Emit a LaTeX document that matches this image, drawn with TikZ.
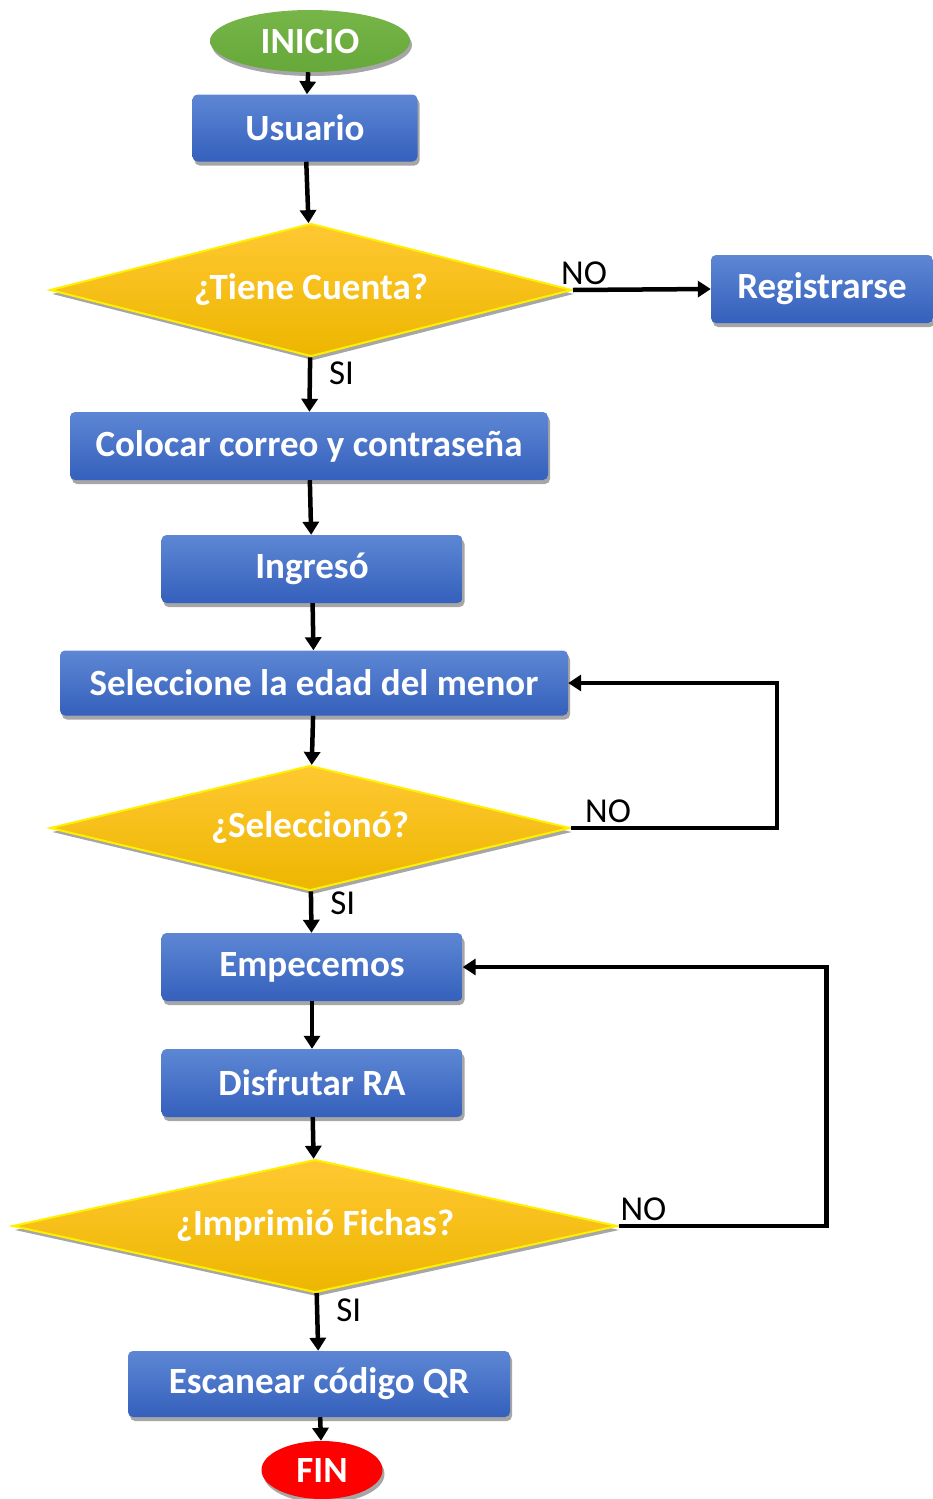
\documentclass[tikz,border=0pt]{standalone}
\usepackage{fontspec}
\setmainfont{Carlito}
\usepackage{tikz}
\usetikzlibrary{arrows.meta,shapes.geometric,shadows}
\definecolor{bluetop}{HTML}{5D87D4}
\definecolor{bluebot}{HTML}{3560BC}
\definecolor{goldtop}{HTML}{FFC832}
\definecolor{goldbot}{HTML}{EDB600}
\definecolor{yelline}{HTML}{FFF000}
\definecolor{greenx}{HTML}{77B548}
\definecolor{greendk}{HTML}{66A83A}
\definecolor{redx}{HTML}{FF0000}
\tikzset{
  ar/.style={-{Triangle[length=13pt,width=16pt]},line width=4.5pt,black},
  shd/.style={drop shadow={shadow xshift=2pt,shadow yshift=-4pt,opacity=0.35,fill=black}},
  box/.style={rectangle,rounded corners=5pt,top color=bluetop,bottom color=bluebot,draw=none,
    text=white,font=\fontsize{37}{39}\selectfont\bfseries,inner sep=0pt,shd},
  dec/.style={diamond,shape aspect=3.9,top color=goldtop,bottom color=goldbot,draw=yelline,line width=2pt,
    text=white,font=\fontsize{37}{39}\selectfont\bfseries,inner sep=0pt,shd},
  term/.style={ellipse,draw=none,text=white,font=\fontsize{37}{39}\selectfont\bfseries,inner sep=0pt,shd},
  lbl/.style={font=\fontsize{35}{37}\selectfont,text=black,inner sep=3pt},
  si/.style={lbl,right,xshift=14pt}
}
\begin{document}
\begin{tikzpicture}[x=1pt,y=-1pt]
\useasboundingbox (0,0) rectangle (933,1499);
% nodes
\node[term,top color=greenx,bottom color=greendk,minimum width=200,minimum height=62] (ini) at (310,41) {INICIO};
\node[box,minimum width=225,minimum height=67] (usu) at (305,128) {Usuario};
\node[dec,minimum width=522,minimum height=133] (cta) at (311,290) {¿Tiene Cuenta?};
\node[box,minimum width=222,minimum height=68] (reg) at (822,289) {Registrarse};
\node[box,minimum width=478,minimum height=68] (col) at (309,446) {Colocar correo y contraseña};
\node[box,minimum width=301,minimum height=68] (ing) at (312,569) {Ingresó};
\node[box,minimum width=508,minimum height=65] (eda) at (314,683) {Seleccione la edad del menor};
\node[dec,minimum width=520,minimum height=125] (sel) at (310,828) {¿Seleccionó?};
\node[box,minimum width=301,minimum height=68] (emp) at (312,967) {Empecemos};
\node[box,minimum width=301,minimum height=68] (dis) at (312,1083) {Disfrutar RA};
\node[dec,minimum width=605,minimum height=133] (imp) at (315,1226) {¿Imprimió Fichas?};
\node[box,minimum width=382,minimum height=66] (esc) at (319,1384) {Escanear código QR};
\node[term,fill=redx,minimum width=121,minimum height=58] (fin) at (322,1470) {FIN};
% connectors
\draw[ar] (ini) -- (usu);
\draw[ar] (usu) -- (cta);
\draw[ar] (cta.east) -- (reg.west) node[lbl,pos=0.08,above] {NO};
\draw[ar] (cta) -- (col) node[si,pos=0.3] {SI};
\draw[ar] (col) -- (ing);
\draw[ar] (ing) -- (eda);
\draw[ar] (eda) -- (sel);
\draw[ar] (sel.east) -- ++(206,0) node[lbl,pos=0.18,above] {NO} |- (eda.east);
\draw[ar] (sel) -- (emp) node[si,pos=0.3] {SI};
\draw[ar] (emp) -- (dis);
\draw[ar] (dis) -- (imp);
\draw[ar] (imp.east) -- ++(208,0) node[lbl,pos=0.12,above] {NO} |- (emp.east);
\draw[ar] (imp) -- (esc) node[si,pos=0.3] {SI};
\draw[ar] (esc) -- (fin);
\end{tikzpicture}
\end{document}
